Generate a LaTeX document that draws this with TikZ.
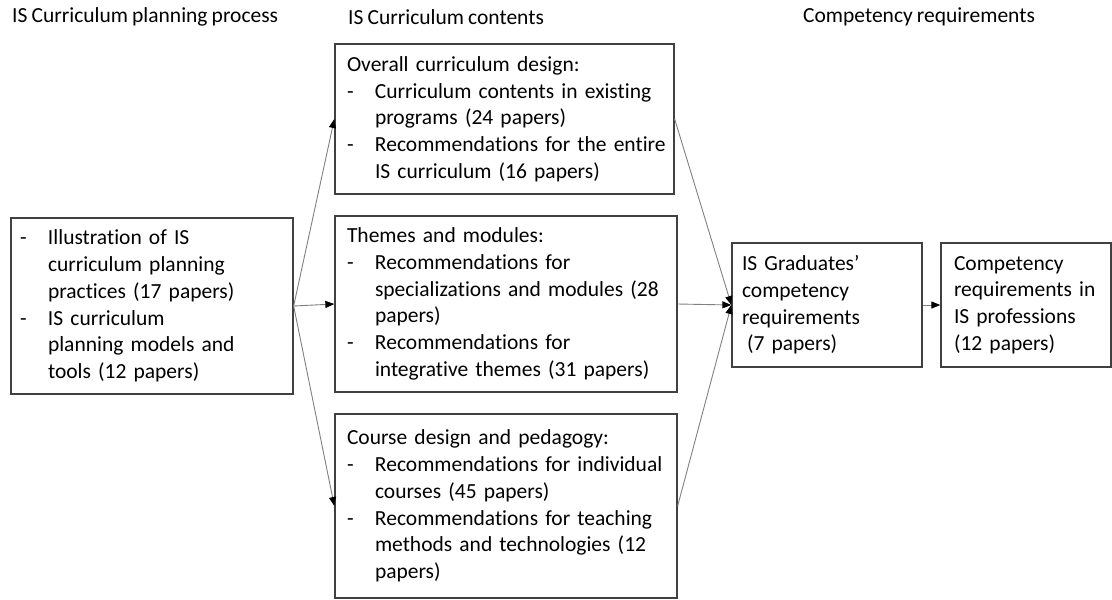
\documentclass[tikz,border=0pt]{standalone}
\usepackage{fontspec}
\setmainfont{Carlito}[Ligatures=NoCommon, WordSpace=0.85]
\usetikzlibrary{arrows.meta}
\newcommand\bl[1]{\mbox{\makebox[28pt][l]{-}#1}}
\newcommand\cl[1]{\mbox{\hspace*{28pt}#1}}
\newcommand\pl[1]{\mbox{#1}}
\tikzset{
  box/.style={draw=black!75, line width=1.3pt, rectangle, inner sep=0pt, align=left},
  head/.style={anchor=west, inner sep=0pt},
  conn/.style={draw=black!50, line width=0.9pt, -{Triangle[length=9pt,width=7pt,color=black]}}
}
\begin{document}
\begin{tikzpicture}[x=1pt,y=-1pt,font=\fontsize{21.5}{26.7}\selectfont]
\useasboundingbox (0,0) rectangle (1112,600);
% headers
\node[head] (h1) at (12,17) {IS Curriculum planning process};
\node[head] (h2) at (348,17) {IS Curriculum contents};
\node[head] (h3) at (803,17) {Competency requirements};
% boxes
\node[box, minimum width=282pt, minimum height=176pt, text width=264pt] (L) at (152,306)
  {\bl{Illustration of IS}\\ \cl{curriculum planning}\\ \cl{practices (17 papers)}\\ \bl{IS curriculum}\\ \cl{planning models and}\\ \cl{tools (12 papers)}};
\node[box, minimum width=339pt, minimum height=150pt, text width=315pt] (T) at (504.5,119)
  {\pl{Overall curriculum design:}\\ \bl{Curriculum contents in existing}\\ \cl{programs (24 papers)}\\ \bl{Recommendations for the entire}\\ \cl{IS curriculum (16 papers)}};
\node[box, minimum width=342pt, minimum height=176pt, text width=318pt] (M) at (506,304)
  {\pl{Themes and modules:}\\ \bl{Recommendations for}\\ \cl{specializations and modules (28}\\ \cl{papers)}\\ \bl{Recommendations for}\\ \cl{integrative themes (31 papers)}};
\node[box, minimum width=342pt, minimum height=184pt, text width=318pt] (B) at (506,506)
  {\pl{Course design and pedagogy:}\\ \bl{Recommendations for individual}\\ \cl{courses (45 papers)}\\ \bl{Recommendations for teaching}\\ \cl{methods and technologies (12}\\ \cl{papers)}};
\node[box, minimum width=190pt, minimum height=124pt, text width=170pt] (G) at (827,305)
  {\pl{IS Graduates’}\\ \pl{competency}\\ \pl{requirements}\\ \pl{\hspace*{5pt}(7 papers)}};
\node[box, minimum width=170pt, minimum height=124pt, text width=144pt] (C) at (1026,305)
  {\pl{Competency}\\ \pl{requirements in}\\ \pl{IS professions}\\ \pl{(12 papers)}};
% connectors
\draw[conn] (L.east) -- (T.west);
\draw[conn] (L.east) -- (M.west);
\draw[conn] (L.east) -- (B.west);
\draw[conn] (T.east) -- (G.west);
\draw[conn] (M.east) -- (G.west);
\draw[conn] (B.east) -- (G.west);
\draw[conn] (G.east) -- (C.west);
\end{tikzpicture}
\end{document}
